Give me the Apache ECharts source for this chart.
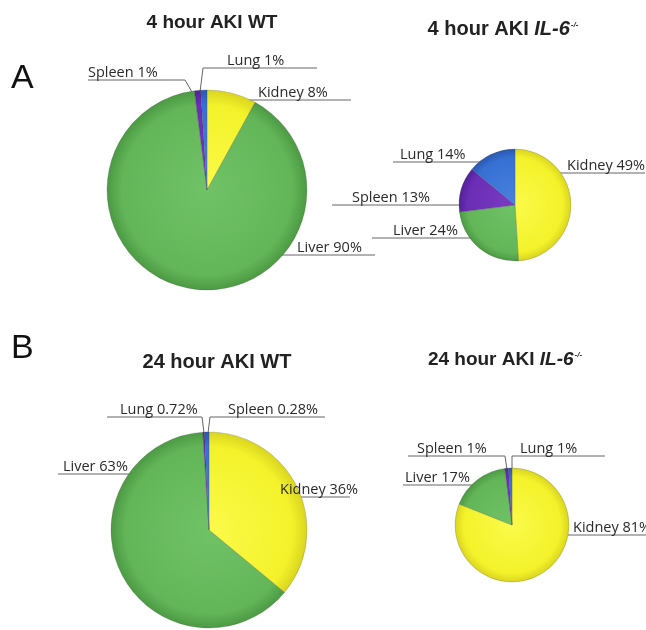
<!DOCTYPE html>
<html>
<head>
<meta charset="utf-8">
<script src="https://cdn.jsdelivr.net/npm/echarts@6/dist/echarts.min.js"></script>
<style>
  html, body { margin: 0; padding: 0; background: #ffffff; }
  #chart { width: 646px; height: 630px; }
</style>
</head>
<body>
<div id="chart"></div>
<script>
// 数据（顺时针，从12点开始）
const organs = ['Kidney', 'Liver', 'Spleen', 'Lung'];
const wt4h = [8, 90, 1, 1];
const il6_4h = [49, 24, 13, 14];
const wt24h = [36, 63, 0.28, 0.72];
const il6_24h = [81, 17, 1, 1];

const panelTitles = ['4 hour AKI WT', '4 hour AKI ', '24 hour AKI WT', '24 hour AKI '];

// 每个饼图的位置和半径
const pies = [
  { values: wt4h,    center: [207, 190], r: 100 },
  { values: il6_4h,  center: [515, 205], r: 56 },
  { values: wt24h,   center: [209, 530], r: 98 },
  { values: il6_24h, center: [512, 525], r: 57 }
];

// 标签引导线（相对圆心），text 为文字左端
const labelSpots = [
  [
    { line: [[33, -90], [144, -90]], text: 51 },
    { line: [[55, 65], [168, 65]], text: 90 },
    { line: [[-15, -98], [-22, -110], [-119, -110]], text: -119 },
    { line: [[-7, -98], [-4, -122], [110, -122]], text: 20 }
  ],
  [
    { line: [[25, -32], [130, -32]], text: 52 },
    { line: [[-30, 33], [-143, 33]], text: -122 },
    { line: [[-45, 0], [-183, 0]], text: -163 },
    { line: [[-15, -43], [-122, -43]], text: -115 }
  ],
  [
    { line: [[39, -33], [141, -33]], text: 71 },
    { line: [[-72, -56], [-151, -56]], text: -146 },
    { line: [[-1, -97], [1, -113], [116, -113]], text: 19 },
    { line: [[-5, -97], [-7, -113], [-102, -113]], text: -89 }
  ],
  [
    { line: [[41, 10], [148, 10]], text: 61 },
    { line: [[-34, -40], [-109, -40]], text: -107 },
    { line: [[-5, -55], [-7, -69], [-104, -69]], text: -95 },
    { line: [[0, -55], [0, -69], [93, -69]], text: 8 }
  ]
];

// 颜色：[中心, 主色, 边缘]
const organColors = {
  Kidney: ['#fbfa4a', '#f3f22a', '#d9d520'],
  Liver: ['#70c266', '#63b658', '#4c9a44'],
  Spleen: ['#7a3cc4', '#6a2db4', '#53219a'],
  Lung: ['#4a82de', '#3670d2', '#2a58b0']
};

const myChart = echarts.init(document.getElementById('chart'), null, { renderer: 'canvas' });

const makeSeries = (pie, si) => ({
  type: 'pie',
  center: pie.center,
  radius: [0, pie.r],
  startAngle: 90,
  clockwise: true,
  avoidLabelOverlap: false,
  silent: true,
  emphasis: { disabled: true },
  data: organs.map((name, i) => {
    const c = organColors[name];
    return {
      name: name,
      value: pie.values[i],
      itemStyle: {
        color: {
          type: 'radial',
          x: pie.center[0],
          y: pie.center[1],
          r: pie.r,
          global: true,
          colorStops: [
            { offset: 0, color: c[0] },
            { offset: 0.85, color: c[1] },
            { offset: 1, color: c[2] }
          ]
        }
      }
    };
  }),
  itemStyle: {
    borderColor: 'rgba(60,60,60,0.25)',
    borderWidth: 0.8
  },
  label: {
    show: true,
    position: 'outside',
    formatter: '{b} {c}%',
    color: '#2a2a2a',
    fontFamily: 'Open Sans, sans-serif',
    fontSize: 14.5
  },
  labelLine: {
    show: true,
    length: 5,
    length2: 5,
    lineStyle: { color: '#666666', width: 1 }
  },
  labelLayout: (params) => {
    const spot = labelSpots[si][params.dataIndex];
    const c = pie.center;
    let pts = spot.line.map(p => [c[0] + p[0], c[1] + p[1]]);
    if (pts.length === 2) pts = [pts[0], pts[0], pts[1]];
    const lineY = pts[pts.length - 1][1];
    return {
      x: c[0] + spot.text,
      y: lineY,
      align: 'left',
      verticalAlign: 'bottom',
      labelLinePoints: pts
    };
  }
});

const titleFont = 'Liberation Sans, Arial, sans-serif';
const makeRich = (size) => ({
  n: { fontFamily: titleFont, fontWeight: 'bold', fontSize: size, color: '#222222', verticalAlign: 'bottom', lineHeight: 22 },
  i: { fontFamily: titleFont, fontWeight: 'bold', fontStyle: 'italic', fontSize: size, color: '#222222', verticalAlign: 'bottom', lineHeight: 22 },
  s: { fontFamily: titleFont, fontWeight: 'bold', fontStyle: 'italic', fontSize: 8, color: '#333333', verticalAlign: 'top', lineHeight: 22, padding: [4, 0, 0, 1] }
});

const option = {
  backgroundColor: '#ffffff',
  animation: false,
  title: [
    { text: '{n|' + panelTitles[0] + '}', left: 207, top: 5, textAlign: 'center', textStyle: { rich: makeRich(19) } },
    { text: '{n|' + panelTitles[1] + '}{i|IL-6}{s|-/-}', left: 498, top: 12, textAlign: 'center', textStyle: { rich: makeRich(20) } },
    { text: '{n|' + panelTitles[2] + '}', left: 212, top: 345, textAlign: 'center', textStyle: { rich: makeRich(20) } },
    { text: '{n|' + panelTitles[3] + '}{i|IL-6}{s|-/-}', left: 500, top: 342, textAlign: 'center', textStyle: { rich: makeRich(19) } }
  ],
  graphic: [
    { type: 'text', left: 11, top: 62, style: { text: 'A', fontSize: 34, fontFamily: titleFont, fill: '#111111' } },
    { type: 'text', left: 11, top: 332, style: { text: 'B', fontSize: 34, fontFamily: titleFont, fill: '#111111' } }
  ],
  series: pies.map(makeSeries)
};

myChart.setOption(option);
</script>
</body>
</html>
